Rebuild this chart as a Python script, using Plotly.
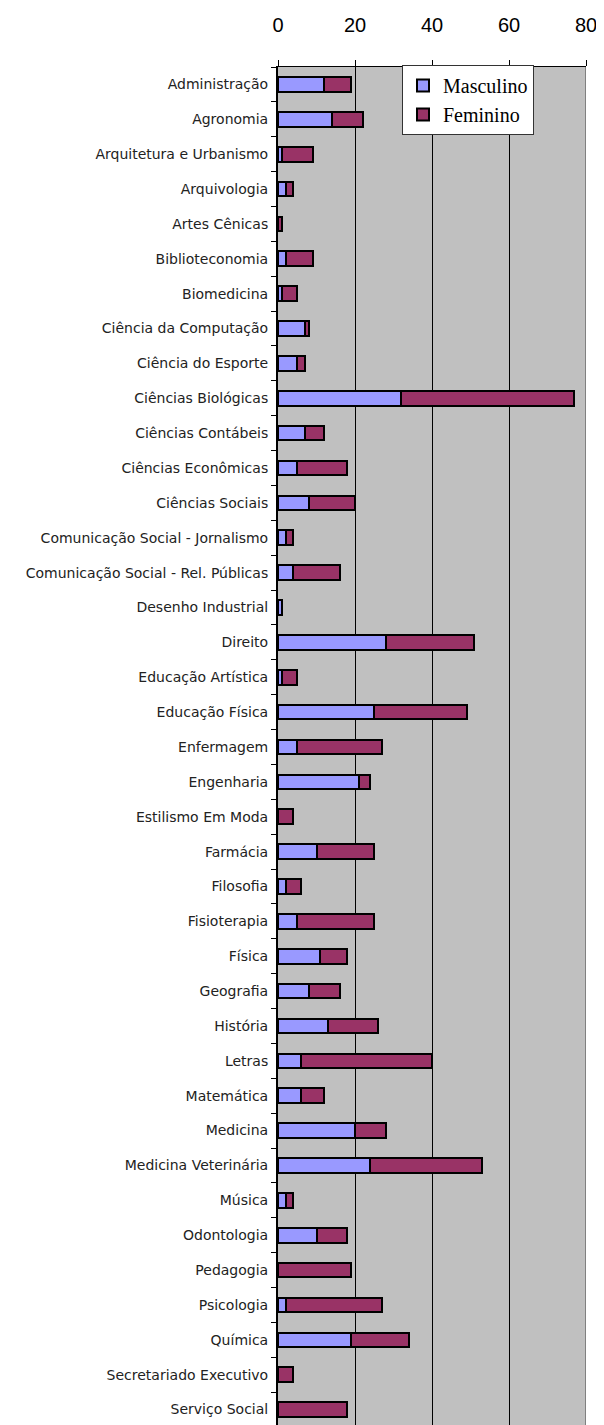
import plotly.graph_objects as go

cursos = [
    "Administração", "Agronomia", "Arquitetura e Urbanismo", "Arquivologia",
    "Artes Cênicas", "Biblioteconomia", "Biomedicina", "Ciência da Computação",
    "Ciência do Esporte", "Ciências Biológicas", "Ciências Contábeis",
    "Ciências Econômicas", "Ciências Sociais", "Comunicação Social - Jornalismo",
    "Comunicação Social - Rel. Públicas", "Desenho Industrial", "Direito",
    "Educação Artística", "Educação Física", "Enfermagem", "Engenharia",
    "Estilismo Em Moda", "Farmácia", "Filosofia", "Fisioterapia", "Física",
    "Geografia", "História", "Letras", "Matemática", "Medicina",
    "Medicina Veterinária", "Música", "Odontologia", "Pedagogia", "Psicologia",
    "Química", "Secretariado Executivo", "Serviço Social",
]
masculino = [12, 14, 1, 2, 0, 2, 1, 7, 5, 32, 7, 5, 8, 2, 4, 1, 28, 1, 25, 5,
             21, 0, 10, 2, 5, 11, 8, 13, 6, 6, 20, 24, 2, 10, 0, 2, 19, 0, 0]
feminino = [7, 8, 8, 2, 1, 7, 4, 1, 2, 45, 5, 13, 12, 2, 12, 0, 23, 4, 24, 22,
            3, 4, 15, 4, 20, 7, 8, 13, 34, 6, 8, 29, 2, 8, 19, 25, 15, 4, 18]
x_ticks = [0, 20, 40, 60, 80]

fig = go.Figure()
fig.add_trace(go.Bar(y=cursos, x=masculino, name="Masculino", orientation="h",
                     marker=dict(color="#9999FF", line=dict(color="black", width=2)),
                     width=0.42))
fig.add_trace(go.Bar(y=cursos, x=feminino, name="Feminino", orientation="h",
                     marker=dict(color="#993366", line=dict(color="black", width=2)),
                     width=0.42))

fig.update_layout(
    width=604, height=1425,
    barmode="stack",
    paper_bgcolor="white",
    plot_bgcolor="#C0C0C0",
    margin=dict(l=270, r=26, t=57, b=6),
    font=dict(family="Liberation Sans, Arial", color="#111111"),
    legend=dict(x=0.4026, y=1.0015, xanchor="left", yanchor="top",
                bgcolor="white", bordercolor="#333333", borderwidth=1,
                font=dict(family="Liberation Serif, Times New Roman", size=20, color="black"),
                traceorder="normal", itemwidth=30, tracegroupgap=0),
    showlegend=True,
)
fig.update_xaxes(side="top", range=[0, 80], tickvals=x_ticks,
                 showgrid=True, gridcolor="black", gridwidth=1,
                 ticks="outside", ticklen=6, tickcolor="black",
                 ticklabelstandoff=20,
                 showline=True, linecolor="black", linewidth=1,
                 zeroline=False, tickfont=dict(size=20, color="black"))
fig.update_yaxes(autorange="reversed", tickson="boundaries",
                 ticks="outside", ticklen=5, tickcolor="black",
                 ticklabelstandoff=5,
                 showline=True, linecolor="black", linewidth=2,
                 showgrid=False,
                 tickfont=dict(family="DejaVu Sans", size=14, color="#222222"))
# borda direita cinza da area do grafico
fig.add_shape(type="line", xref="x", yref="paper", x0=80, x1=80, y0=0, y1=1,
              line=dict(color="#808080", width=2))

fig.write_html("out.html")
